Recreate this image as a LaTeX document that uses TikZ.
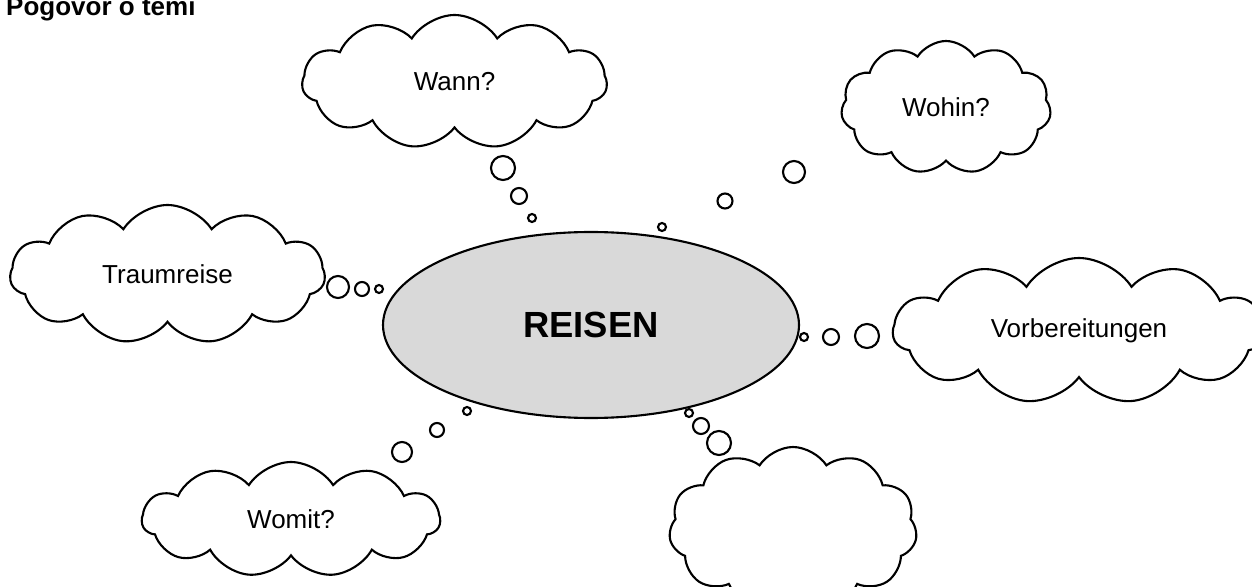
\documentclass[tikz,border=0pt]{standalone}
\usepackage{fontspec}
\setmainfont{Liberation Sans}
\usetikzlibrary{shapes.symbols,shapes.geometric}
\definecolor{topicfill}{RGB}{217,217,217}
\tikzstyle{thought} = [cloud, draw, line width=1.2pt, cloud puffs=11, cloud puff arc=115,
    cloud ignores aspect, inner sep=0pt, font=\fontsize{14.8}{17}\selectfont]
\tikzstyle{bubble} = [circle, draw, line width=1.2pt, inner sep=0pt]
\begin{document}
\begin{tikzpicture}
            \useasboundingbox (0, 0) rectangle (25.04, 11.72);
            \node[anchor=base west, font=\bfseries\fontsize{14.8}{17}\selectfont] (title) at (0, 11.40) {Pogovor o temi};

            \node[ellipse, draw, line width=1.2pt, fill=topicfill, minimum width=8.32cm, minimum height=3.72cm,
                font=\bfseries\fontsize{20.7}{24}\selectfont] (reisen) at (11.82, 5.22) {REISEN};

            % clouds
            \node[thought, minimum width=6.1cm, minimum height=2.68cm] (wann) at (9.09, 10.08) {Wann?};
            \node[thought, minimum width=4.2cm, minimum height=2.66cm] (wohin) at (18.92, 9.57) {Wohin?};
            \node[thought, minimum width=6.3cm, minimum height=2.78cm] (traum) at (3.35, 6.23) {Traumreise};
            \node[thought, minimum width=7.44cm, minimum height=2.92cm] (vorb) at (21.58, 5.10) {Vorbereitungen};
            \node[thought, minimum width=5.96cm, minimum height=2.3cm] (womit) at (5.82, 1.33) {Womit?};
            \node[thought, minimum width=4.96cm, minimum height=3.26cm] (leer) at (15.86, 1.15) {};

            % bubbles
            \node[bubble, minimum size=0.48cm] (wann1) at (10.06, 8.36) {};
            \node[bubble, minimum size=0.32cm] (wann2) at (10.38, 7.80) {};
            \node[bubble, minimum size=0.16cm] (wann3) at (10.64, 7.36) {};

            \node[bubble, minimum size=0.44cm] (wohin1) at (15.88, 8.28) {};
            \node[bubble, minimum size=0.30cm] (wohin2) at (14.50, 7.70) {};
            \node[bubble, minimum size=0.16cm] (wohin3) at (13.24, 7.18) {};

            \node[bubble, minimum size=0.44cm] (traum1) at (6.76, 5.98) {};
            \node[bubble, minimum size=0.28cm] (traum2) at (7.24, 5.94) {};
            \node[bubble, minimum size=0.16cm] (traum3) at (7.58, 5.94) {};

            \node[bubble, minimum size=0.48cm] (vorb1) at (17.34, 5.00) {};
            \node[bubble, minimum size=0.32cm] (vorb2) at (16.62, 4.98) {};
            \node[bubble, minimum size=0.16cm] (vorb3) at (16.08, 4.98) {};

            \node[bubble, minimum size=0.40cm] (womit1) at (8.04, 2.68) {};
            \node[bubble, minimum size=0.28cm] (womit2) at (8.74, 3.12) {};
            \node[bubble, minimum size=0.16cm] (womit3) at (9.34, 3.50) {};

            \node[bubble, minimum size=0.48cm] (leer1) at (14.38, 2.86) {};
            \node[bubble, minimum size=0.32cm] (leer2) at (14.02, 3.20) {};
            \node[bubble, minimum size=0.16cm] (leer3) at (13.78, 3.46) {};
        \end{tikzpicture}
\end{document}
